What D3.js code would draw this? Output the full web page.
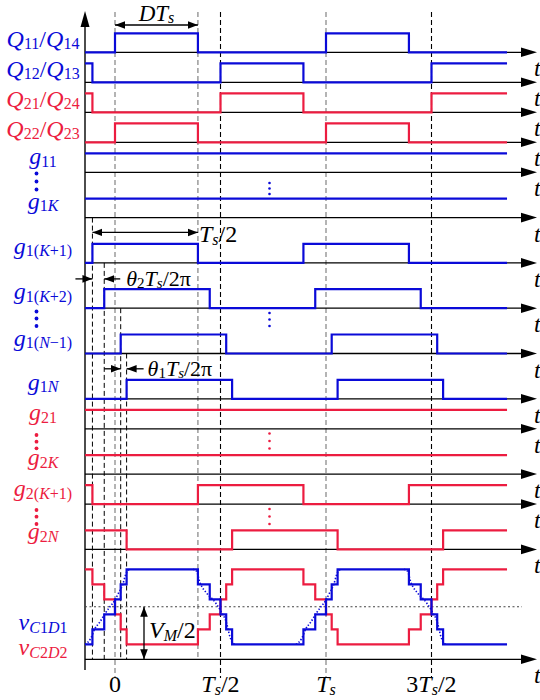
<!DOCTYPE html>
<html>
<head>
<meta charset="utf-8">
<script src="https://cdn.jsdelivr.net/npm/d3@7"></script>
<style>
  body { margin: 0; background: #fff; }
  text, tspan { font-family: "Liberation Serif", "Times New Roman", serif; }
</style>
</head>
<body>
<div id="chart"></div>
<script>
// time is in units of Ts
var D = 0.393;
var tStart = -0.142, tEnd = 1.858;

// high intervals of each gate signal (in Ts)
var q11q14 = [[0, 0.393], [1, 1.393]];
var q12q13 = [[-0.5, -0.107], [0.5, 0.893], [1.5, 1.893]];
var q21q24 = [[-0.5, -0.107], [0.5, 0.893], [1.5, 1.893]];
var q22q23 = [[0, 0.393], [1, 1.393]];
var g11 = [[-1, 3]];
var g1K = [[-1, 3]];
var g1K1 = [[-0.107, 0.393], [0.893, 1.393]];
var g1K2 = [[-0.051, 0.449], [0.949, 1.449]];
var g1N1 = [[0.027, 0.527], [1.027, 1.527]];
var g1N = [[0.055, 0.555], [1.055, 1.555]];
var g21 = [[-1, 3]];
var g2K = [[-1, 3]];
var g2K1 = [[-0.5, -0.107], [0.393, 0.893], [1.393, 1.893]];
var g2N = [[-0.5, 0.055], [0.555, 1.055], [1.555, 2]];

var rowPulses = [q11q14, q12q13, q21q24, q22q23, g11, g1K, g1K1, g1K2, g1N1, g1N, g21, g2K, g2K1, g2N];
var rowColor = ["b", "b", "r", "r", "b", "b", "b", "b", "b", "b", "r", "r", "r", "r"];

var rowLabels = [
  [["Q","i"],["11","s"],["/","r"],["Q","i"],["14","s"]],
  [["Q","i"],["12","s"],["/","r"],["Q","i"],["13","s"]],
  [["Q","i"],["21","s"],["/","r"],["Q","i"],["24","s"]],
  [["Q","i"],["22","s"],["/","r"],["Q","i"],["23","s"]],
  [["g","i"],["11","s"]],
  [["g","i"],["1","s"],["K","si"]],
  [["g","i"],["1(","s"],["K","si"],["+1)","s"]],
  [["g","i"],["1(","s"],["K","si"],["+2)","s"]],
  [["g","i"],["1(","s"],["N","si"],["\u22121)","s"]],
  [["g","i"],["1","s"],["N","si"]],
  [["g","i"],["21","s"]],
  [["g","i"],["2","s"],["K","si"]],
  [["g","i"],["2(","s"],["K","si"],["+1)","s"]],
  [["g","i"],["2","s"],["N","si"]]
];

// staircase voltages (levels in steps, 0 = mid line)
var vTimes = [-0.142, -0.107, -0.051, 0, 0.027, 0.055, 0.393, 0.449, 0.5, 0.527, 0.555,
              0.893, 0.949, 1, 1.027, 1.055, 1.393, 1.449, 1.5, 1.527, 1.555, 1.858];
var vC1D1 = [-2.5, -1.5, -0.5, 0.5, 1.5, 2.5, 1.5, 0.5, -0.5, -1.5, -2.5,
             -1.5, -0.5, 0.5, 1.5, 2.5, 1.5, 0.5, -0.5, -1.5, -2.5, -2.5];
var vC2D2 = [2.5, 1.5, 0.5, -0.5, -1.5, -2.5, -1.5, -0.5, 0.5, 1.5, 2.5,
             1.5, 0.5, -0.5, -1.5, -2.5, -1.5, -0.5, 0.5, 1.5, 2.5, 2.5];

// dotted reference of vC1D1 (rising and falling edge, one period)
var refRiseT = [-0.142, -0.131, -0.115, -0.095, -0.071, -0.047, -0.024, 0, 0.016, 0.036, 0.052, 0.063, 0.075];
var refRiseV = [-2.5, -2.4, -2.1, -1.45, -1.0, -0.45, 0.0, 0.45, 0.9, 1.45, 2.2, 2.45, 2.5];
var refFallT = [0.37, 0.385, 0.403, 0.435, 0.466, 0.498, 0.529, 0.545, 0.561, 0.575];
var refFallV = [2.5, 2.4, 1.6, 0.9, 0.45, -0.2, -1.1, -2.0, -2.45, -2.5];

var tickT = [0, 0.5, 1, 1.5];
var tickLabels = [
  [["0","r"]],
  [["T","i"],["s","si"],["/2","r"]],
  [["T","i"],["s","si"]],
  [["3","r"],["T","i"],["s","si"],["/2","r"]]
];

var blue = "#0a0ad8", red = "#ec1c40";
var fontFam = "'Liberation Serif', 'Times New Roman', serif";
var W = 540, H = 700;

var svg = d3.select("#chart").append("svg")
    .attr("width", W)
    .attr("height", H)
    .attr("font-family", fontFam);

var defs = svg.append("defs");
defs.append("marker")
    .attr("id", "ah")
    .attr("markerUnits", "userSpaceOnUse")
    .attr("viewBox", "0 -5 10 10")
    .attr("refX", 10).attr("refY", 0)
    .attr("markerWidth", 10).attr("markerHeight", 10)
    .attr("orient", "auto-start-reverse")
    .append("path")
    .attr("d", "M0,-3.8L10,0L0,3.8Z")
    .attr("fill", "#000");

var x = d3.scaleLinear().domain([0, 1]).range([115, 326]);
var yV = d3.scaleLinear().domain([-2.5, 2.5]).range([644.3, 569.3]);

var axisX0 = 85, axisEnd = 521, arrowTip = 537;
var pulseH = 19;
var rowGap = [0, 30, 30, 30, 30, 45.3, 45.3, 45.3, 45.3, 45.3, 30, 45.3, 30, 45.3];
var rowY = [];
var acc = 52.3;
rowGap.forEach(function(g){ acc += g; rowY.push(acc); });
var vBase = 659.3;

function col(c){ return c == "b" ? blue : red; }

function rich(sel, parts, size, subSize){
  var shift = 0, sd = 2.5;
  parts.forEach(function(p){
    var isSub = p[1] == "s" || p[1] == "si";
    var ts = sel.append("tspan").text(p[0])
        .attr("font-family", fontFam)
        .attr("font-size", isSub ? subSize : size)
        .attr("font-style", (p[1] == "i" || p[1] == "si") ? "italic" : "normal");
    if (isSub && shift == 0) { ts.attr("dy", sd); shift = sd; }
    else if (!isSub && shift == sd) { ts.attr("dy", -sd); shift = 0; }
  });
}

// ---- dashed guide lines ----
var markT = [0, D, 0.5, 1, 1.5];
var markCol = ["#777", "#777", "#000", "#777", "#000"];
var markBottom = [678, 659, 678, 678, 678];
svg.append("g").selectAll("line")
    .data(markT)
    .enter().append("line")
    .attr("x1", function(d){ return x(d); })
    .attr("x2", function(d){ return x(d); })
    .attr("y1", 12)
    .attr("y2", function(d, i){ return markBottom[i]; })
    .attr("stroke", function(d, i){ return markCol[i]; })
    .attr("stroke-width", 1.1)
    .attr("stroke-dasharray", "5,3");

// phase shift guides start under the row above their own gate signal
var phaseRows = [6, 7, 8, 9];
svg.append("g").selectAll("line")
    .data(phaseRows)
    .enter().append("line")
    .attr("x1", function(r){ return x(rowPulses[r][0][0]); })
    .attr("x2", function(r){ return x(rowPulses[r][0][0]); })
    .attr("y1", function(r){ return rowY[r - 1]; })
    .attr("y2", vBase)
    .attr("stroke", "#000")
    .attr("stroke-width", 1)
    .attr("stroke-dasharray", "5,3");

// ---- axes ----
var axisYs = rowY.concat([vBase]);
var axes = svg.append("g");
axes.selectAll("line")
    .data(axisYs)
    .enter().append("line")
    .attr("x1", axisX0).attr("x2", axisEnd)
    .attr("y1", function(d){ return d; })
    .attr("y2", function(d){ return d; })
    .attr("stroke", "#000")
    .attr("stroke-width", 1.3);
axes.selectAll("path")
    .data(axisYs)
    .enter().append("path")
    .attr("d", function(d){
      return "M" + axisEnd + "," + (d - 4.8) + "L" + arrowTip + "," + d + "L" + axisEnd + "," + (d + 4.8) + "Z";
    })
    .attr("fill", "#000");
axes.selectAll(".tl")
    .data(axisYs)
    .enter().append("text")
    .attr("class", "tl")
    .attr("x", 534)
    .attr("y", function(d){ return d + 24; })
    .attr("font-size", 24)
    .attr("font-style", "italic")
    .text("t");

// vertical axis
svg.append("line")
    .attr("x1", axisX0).attr("x2", axisX0)
    .attr("y1", 24).attr("y2", 670)
    .attr("stroke", "#000").attr("stroke-width", 1.4);
svg.append("path")
    .attr("d", "M" + (axisX0 - 4.5) + ",27L" + axisX0 + ",11L" + (axisX0 + 4.5) + ",27Z")
    .attr("fill", "#000");

// ---- gate signals ----
function stepData(pulses){
  var lev = 0;
  pulses.forEach(function(p){ if (p[0] <= tStart && p[1] > tStart) lev = 1; });
  var edges = [];
  pulses.forEach(function(p){
    if (p[0] > tStart && p[0] < tEnd) edges.push([p[0], 1]);
    if (p[1] > tStart && p[1] < tEnd) edges.push([p[1], 0]);
  });
  edges.sort(function(a, b){ return a[0] - b[0]; });
  var pts = [[tStart, lev]];
  edges.forEach(function(e){ pts.push(e); lev = e[1]; });
  pts.push([tEnd, lev]);
  return pts;
}

var sig = svg.append("g");
rowPulses.forEach(function(p, i){
  var line = d3.line()
      .curve(d3.curveStepAfter)
      .x(function(d){ return x(d[0]); })
      .y(function(d){ return rowY[i] - d[1] * pulseH; });
  sig.append("path")
      .attr("d", line(stepData(p)))
      .attr("fill", "none")
      .attr("stroke", col(rowColor[i]))
      .attr("stroke-width", 2.2);
});

// ---- staircase voltages ----
var vLine = d3.line()
    .curve(d3.curveStepAfter)
    .x(function(d){ return x(d[0]); })
    .y(function(d){ return yV(d[1]); });

svg.append("line")
    .attr("x1", axisX0).attr("x2", 522)
    .attr("y1", yV(0)).attr("y2", yV(0))
    .attr("stroke", "#444")
    .attr("stroke-width", 1.1)
    .attr("stroke-dasharray", "2,2.5");

svg.append("path")
    .attr("d", vLine(vTimes.map(function(t, i){ return [t, vC2D2[i]]; })))
    .attr("fill", "none").attr("stroke", red).attr("stroke-width", 2.2);

var refLine = d3.line()
    .curve(d3.curveMonotoneX)
    .x(function(d){ return x(d[0]); })
    .y(function(d){ return yV(d[1]); });
[0, 1].forEach(function(k){
  [[refRiseT, refRiseV], [refFallT, refFallV]].forEach(function(s){
    var pts = s[0].map(function(t, i){ return [t + k, s[1][i]]; });
    svg.append("path")
        .attr("d", refLine(pts))
        .attr("fill", "none")
        .attr("stroke", blue)
        .attr("stroke-width", 1.6)
        .attr("stroke-dasharray", "1.4,1.8");
  });
});

svg.append("path")
    .attr("d", vLine(vTimes.map(function(t, i){ return [t, vC1D1[i]]; })))
    .attr("fill", "none").attr("stroke", blue).attr("stroke-width", 2.2);

// ---- row labels ----
var labelOff = [-5.5, -5.5, -5.5, -5.5, -8, -9, -9, -9, -8, -9, -8.5, -9, -8, -10];
rowLabels.forEach(function(parts, i){
  var t = svg.append("text")
      .attr("x", 43)
      .attr("y", rowY[i] + labelOff[i])
      .attr("text-anchor", "middle")
      .attr("fill", col(rowColor[i]));
  rich(t, parts, 24, 16);
});

var vLabels = [
  [[["v","i"],["C","si"],["1","s"],["D","si"],["1","s"]], "b", 630],
  [[["v","i"],["C","si"],["2","s"],["D","si"],["2","s"]], "r", 655]
];
vLabels.forEach(function(l){
  var t = svg.append("text")
      .attr("x", 43).attr("y", l[2])
      .attr("text-anchor", "middle")
      .attr("fill", col(l[1]));
  rich(t, l[0], 24, 16);
});

// vertical ellipses
function dots(cx, ys, c, r){
  svg.append("g").selectAll("circle")
      .data(ys).enter().append("circle")
      .attr("cx", cx).attr("cy", function(d){ return d; })
      .attr("r", r).attr("fill", c);
}
dots(36.5, [173.5, 181.5, 189.5], blue, 1.9);
dots(36.5, [311.5, 318.5, 326], blue, 1.9);
dots(36.5, [435, 441.7, 448.3], red, 1.9);
dots(36.5, [510, 516.7, 524], red, 1.9);
dots(269.5, [183, 188.5, 194], blue, 1.3);
dots(269.5, [313, 319.5, 326], blue, 1.3);
dots(269.5, [433.5, 441, 448.5], red, 1.3);
dots(269.5, [509, 516.5, 524], red, 1.3);

// ---- annotations ----
function arrow(x1, y1, x2, y2, both){
  var l = svg.append("line")
      .attr("x1", x1).attr("y1", y1).attr("x2", x2).attr("y2", y2)
      .attr("stroke", "#000").attr("stroke-width", 1.3)
      .attr("marker-end", "url(#ah)");
  if (both) l.attr("marker-start", "url(#ah)");
}
function label(xp, yp, parts, anchor, size, subSize){
  var t = svg.append("text")
      .attr("x", xp).attr("y", yp)
      .attr("text-anchor", anchor || "start")
      .attr("fill", "#000");
  rich(t, parts, size || 24, subSize || 16);
}

// DTs
arrow(x(0), 25, x(D), 25, true);
label((x(0) + x(D)) / 2, 20.5, [["D","i"],["T","i"],["s","si"]], "middle", 23);

// Ts/2
var yTs2 = rowY[6] - 30.5;
arrow(x(g1K1[0][0]), yTs2, x(g1K1[0][1]), yTs2, true);
label(x(g1K1[0][1]) + 1, yTs2 + 10, [["T","i"],["s","si"],["/2","r"]]);

// theta2
var yTh2 = rowY[7] - 29.3;
arrow(x(g1K1[0][0]) - 17, yTh2, x(g1K1[0][0]), yTh2);
arrow(x(g1K2[0][0]) + 16, yTh2, x(g1K2[0][0]), yTh2);
label(x(g1K2[0][0]) + 22, yTh2 + 7, [["\u03b8","i"],["2","s"],["T","i"],["s","si"],["/2\u03c0","r"]], "start", 22, 15);

// theta1
var yTh1 = rowY[9] - 30;
arrow(x(g1K2[0][0]), yTh1, x(g1N1[0][0]), yTh1);
arrow(x(g1N[0][0]) + 17, yTh1, x(g1N[0][0]), yTh1);
label(x(g1N[0][0]) + 21, yTh1 + 7, [["\u03b8","i"],["1","s"],["T","i"],["s","si"],["/2\u03c0","r"]], "start", 22, 15);

// VM/2
arrow(144, yV(0), 144, vBase, true);
label(149, 638, [["V","i"],["M","si"],["/2","r"]]);

// bottom tick labels
tickT.forEach(function(t, i){
  label(x(t), 692, tickLabels[i], "middle");
});
</script>
</body>
</html>
